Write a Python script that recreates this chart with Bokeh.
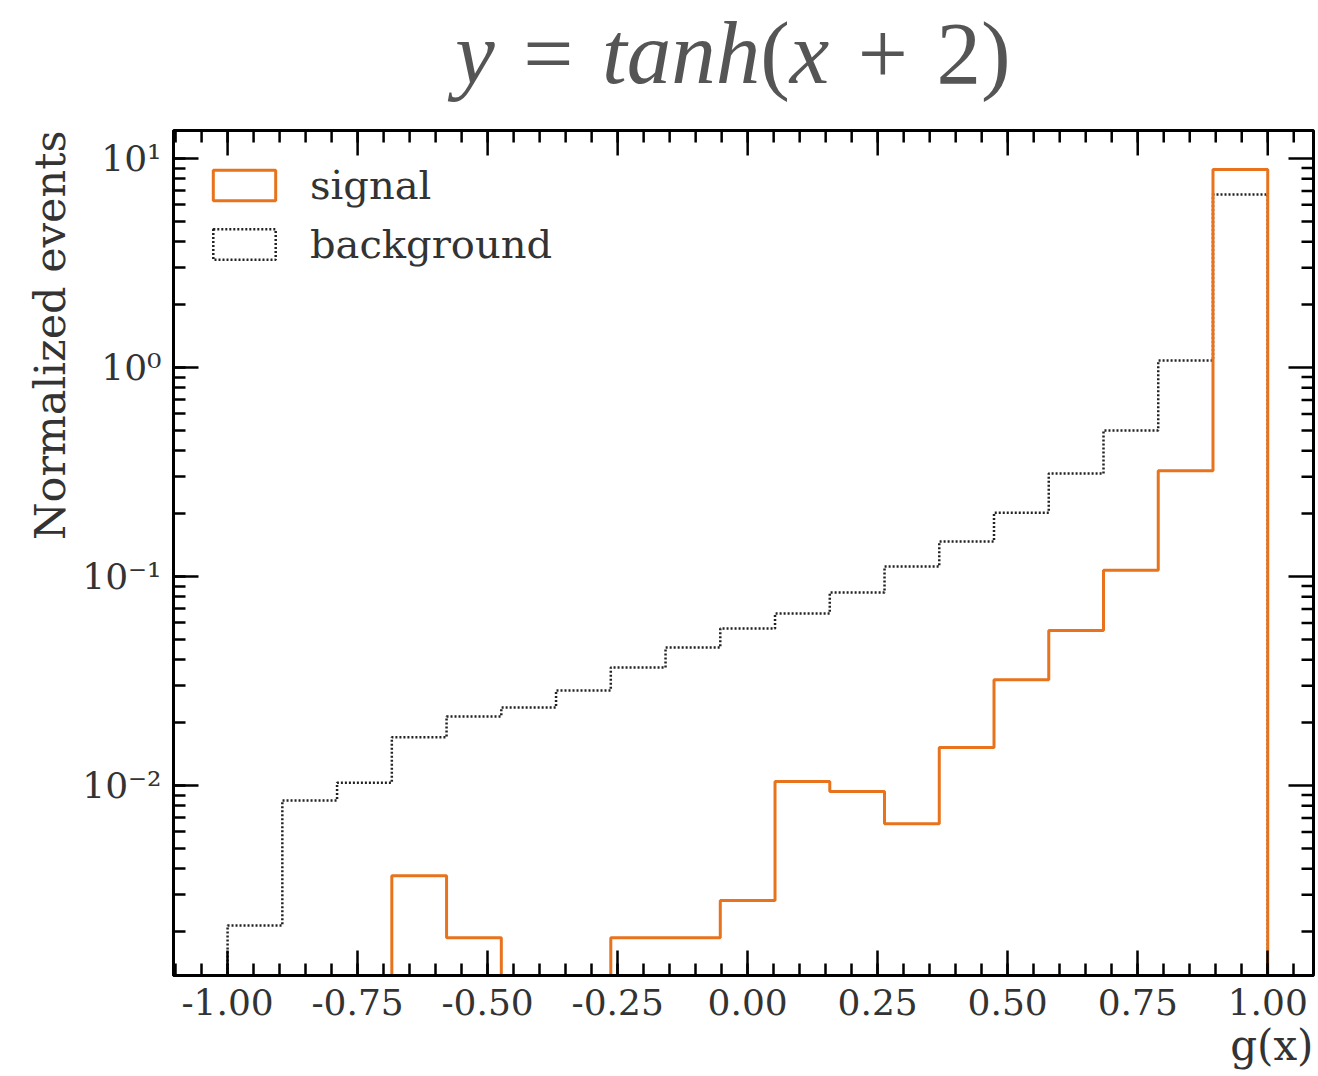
import numpy as np
from bokeh.plotting import figure
from bokeh.layouts import column
from bokeh.models import (FixedTicker, LogTicker, Range1d, Legend, LegendItem,
                          Title, Div, CustomJSTickFormatter, NumeralTickFormatter)
from bokeh.embed import file_html
from bokeh.resources import INLINE

# ---------------- data ----------------
bin_low = -1.0
bin_high = 1.0
n_bins = 19
signal = [0.0, 0.0, 0.0, 0.0037, 0.00187, 0.0, 0.0, 0.00187, 0.00187, 0.00282,
          0.01045, 0.00936, 0.00657, 0.0152, 0.0321, 0.0552, 0.107, 0.321, 8.86]
background = [0.00214, 0.00848, 0.0103, 0.0170, 0.0214, 0.0236, 0.0285, 0.0367,
              0.0457, 0.0564, 0.0665, 0.0838, 0.1116, 0.147, 0.202, 0.311,
              0.500, 1.08, 6.73]
x_major_ticks = [-1.0, -0.75, -0.5, -0.25, 0.0, 0.25, 0.5, 0.75, 1.0]
y_decades = [-3, -2, -1, 0, 1]
series_labels = ["signal", "background"]
title_html = ('<i>y</i><span class="op">=</span><i>tanh</i>(<i>x</i>'
              '<span class="op">+</span>2)')
x_label = "g(x)"
y_label = "Normalized events"

SIGNAL_COLOR = "#e8731c"
BKG_COLOR = "#222222"
FONT = "DejaVu Serif"
X0, X1 = -1.104, 1.088
Y0, Y1 = 10 ** -2.909, 10 ** 1.134
TITLE_H = 112

edges = np.linspace(bin_low, bin_high, n_bins + 1)
FLOOR = 1e-6  # empty bins drop below the visible range


def outline(values):
    xs, ys = [edges[0]], [FLOOR]
    for i, v in enumerate(values):
        v = v if v > 0 else FLOOR
        xs += [edges[i], edges[i + 1]]
        ys += [v, v]
    xs.append(edges[-1])
    ys.append(FLOOR)
    return xs, ys


p = figure(width=1318, height=1076 - TITLE_H, y_axis_type="log",
           x_range=Range1d(X0, X1), y_range=Range1d(Y0, Y1),
           output_backend="svg", toolbar_location=None, title_location=None,
           min_border_left=173, min_border_right=5,
           min_border_top=130 - TITLE_H, min_border_bottom=101)
p.xgrid.visible = False
p.ygrid.visible = False
p.outline_line_color = "black"
p.outline_line_width = 3
p.background_fill_color = "white"
p.border_fill_color = "white"

sx, sy = outline(signal)
bx, by = outline(background)
p.line(bx, by, line_color=BKG_COLOR, line_width=2.5, line_dash="2 2")
p.line(sx, sy, line_color=SIGNAL_COLOR, line_width=3)

x_minor = [round(-1.1 + 0.05 * i, 2) for i in range(45)]
y_minor = [m * 10.0 ** d for d in y_decades for m in range(2, 10)]
y_major = [10.0 ** d for d in y_decades]


def style_axis(ax):
    ax.axis_line_width = 3
    ax.axis_line_color = "black"
    ax.major_tick_in = 25
    ax.major_tick_out = 0
    ax.minor_tick_in = 12
    ax.minor_tick_out = 0
    ax.major_tick_line_width = 2.5
    ax.minor_tick_line_width = 2.5
    ax.major_tick_line_color = "black"
    ax.minor_tick_line_color = "black"
    ax.major_label_text_font = FONT
    ax.major_label_text_font_size = "36px"
    ax.major_label_text_color = "#333333"
    ax.major_label_standoff = 12


xa = p.xaxis[0]
xa.ticker = FixedTicker(ticks=x_major_ticks, minor_ticks=x_minor)
xa.formatter = NumeralTickFormatter(format="0.00")
style_axis(xa)
xa.major_label_standoff = 13

ya = p.yaxis[0]
ya.ticker = LogTicker(num_minor_ticks=10)
ya.formatter = CustomJSTickFormatter(code="""
const e = Math.round(Math.log10(tick));
const sup = {"-": "\u207b", "0": "\u2070", "1": "\u00b9", "2": "\u00b2", "3": "\u00b3",
             "4": "\u2074", "5": "\u2075", "6": "\u2076", "7": "\u2077", "8": "\u2078", "9": "\u2079"};
return "10" + String(e).split("").map(c => sup[c]).join("");
""")
style_axis(ya)

# mirrored inward ticks on top and right
p.ray(x=x_major_ticks, y=[Y1] * len(x_major_ticks), length=25, length_units="screen",
      angle=-np.pi / 2, line_color="black", line_width=2.5)
p.ray(x=x_minor, y=[Y1] * len(x_minor), length=12, length_units="screen",
      angle=-np.pi / 2, line_color="black", line_width=2.5)
p.ray(x=[X1] * len(y_major), y=y_major, length=25, length_units="screen",
      angle=np.pi, line_color="black", line_width=2.5)
p.ray(x=[X1] * len(y_minor), y=y_minor, length=12, length_units="screen",
      angle=np.pi, line_color="black", line_width=2.5)

# legend proxies (rectangles) - hidden renderers on the last bin of each series
q_sig = p.quad(left=[edges[-2]], right=[edges[-1]], top=[signal[-1]], bottom=[FLOOR],
               fill_alpha=0, line_color=SIGNAL_COLOR, line_width=3, visible=False)
q_bkg = p.quad(left=[edges[-2]], right=[edges[-1]], top=[background[-1]], bottom=[FLOOR],
               fill_alpha=0, line_color=BKG_COLOR, line_width=2.5, line_dash="2 2",
               visible=False)

p.add_layout(Title(text=x_label, align="right", text_font=FONT,
                   text_font_size="42px", text_font_style="normal",
                   text_color="#333333", standoff=2), "below")
p.add_layout(Title(text=y_label, align="right", text_font=FONT,
                   text_font_size="43px", text_font_style="normal",
                   text_color="#333333"), "left")

legend = Legend(items=[LegendItem(label=series_labels[0], renderers=[q_sig]),
                       LegendItem(label=series_labels[1], renderers=[q_bkg])],
                location="top_left", margin=0, padding=32, spacing=13,
                glyph_width=78, glyph_height=38, label_standoff=27,
                label_text_font=FONT, label_text_font_size="40px",
                label_text_color="#333333", click_policy="none",
                inactive_fill_alpha=0,
                border_line_alpha=0, background_fill_alpha=0)
p.add_layout(legend, "center")

title_div = Div(
    text='<style>.op{padding:0 0.32em;}</style>'
         '<div style="font-family:\'Liberation Serif\',serif;font-size:89px;'
         'line-height:1;color:#555555;text-align:center;white-space:nowrap;'
         'padding-top:9px;padding-left:148px;width:1318px;box-sizing:border-box;">'
         + title_html + '</div>',
    width=1318, height=TITLE_H, margin=0)

layout = column(title_div, p, spacing=0)
open("out.html", "w").write(file_html(layout, INLINE))
